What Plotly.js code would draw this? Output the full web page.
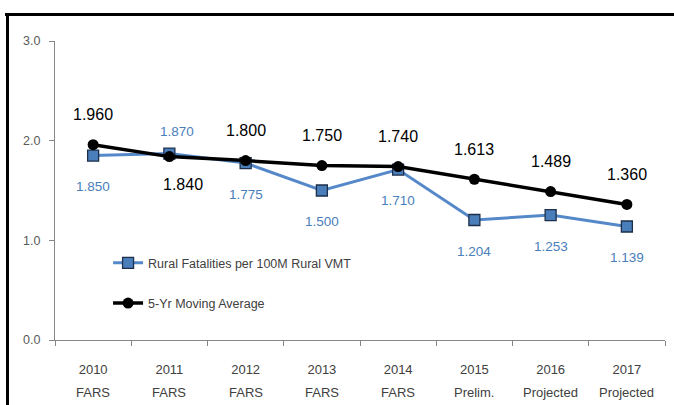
<!DOCTYPE html>
<html>
<head>
<meta charset="utf-8">
<script src="https://cdn.plot.ly/plotly-3.0.1.min.js"></script>
<style>
  html, body { margin: 0; padding: 0; background: #fff; }
  #wrap { position: relative; width: 674px; height: 405px; overflow: hidden; }
  #chart { position: absolute; left: 0; top: 0; width: 674px; height: 405px; }
  .frame { position: absolute; background: #000; z-index: 5; }
</style>
</head>
<body>
<div id="wrap">
  <div id="chart"></div>
  <div class="frame" style="left:5px; top:13px; width:669px; height:3px;"></div>
  <div class="frame" style="left:6px; top:13px; width:3px; height:392px;"></div>
</div>
<script>
// ---- data ----
const years = ["2010", "2011", "2012", "2013", "2014", "2015", "2016", "2017"];
const sources = ["FARS", "FARS", "FARS", "FARS", "FARS", "Prelim.", "Projected", "Projected"];
const ruralRate = [1.850, 1.870, 1.775, 1.500, 1.710, 1.204, 1.253, 1.139];
const movingAvg = [1.960, 1.840, 1.800, 1.750, 1.740, 1.613, 1.489, 1.360];
const seriesNames = ["Rural Fatalities per 100M Rural VMT", "5-Yr Moving Average"];

const FONT = "'Liberation Sans', Arial, sans-serif";
const BLUE = "#4a7ebb";

const traces = [
  {
    x: years, y: ruralRate, name: seriesNames[0], type: "scatter", mode: "lines+markers",
    line: { color: "#5588c8", width: 3 },
    marker: { symbol: "square", size: 11, color: "#4a7ebb", line: { color: "#1d2f4a", width: 1.3 } },
    legendgroup: "a", hoverinfo: "skip"
  },
  {
    x: years, y: movingAvg, name: seriesNames[1], type: "scatter", mode: "lines+markers",
    line: { color: "#000000", width: 3.5 },
    marker: { symbol: "circle", size: 11, color: "#000000" },
    legendgroup: "b", hoverinfo: "skip"
  }
];

const annotations = [];
years.forEach((yr, i) => {
  const blueAbove = ruralRate[i] > movingAvg[i];
  annotations.push({
    x: i, y: ruralRate[i], xref: "x", yref: "y",
    text: ruralRate[i].toFixed(3), showarrow: false,
    xshift: blueAbove ? 8 : 0, yshift: blueAbove ? 22 : -31,
    font: { family: FONT, size: 13.5, color: BLUE }
  });
  annotations.push({
    x: i, y: movingAvg[i], xref: "x", yref: "y",
    text: movingAvg[i].toFixed(3), showarrow: false,
    xshift: blueAbove ? 14 : 0, yshift: blueAbove ? -28 : 30,
    font: { family: FONT, size: 16, color: "#000000" }
  });
  annotations.push({
    x: i, y: 0, xref: "x", yref: "y",
    text: sources[i], showarrow: false, yanchor: "middle", yshift: -52,
    font: { family: FONT, size: 13, color: "#404040" }
  });
});

const layout = {
  width: 674, height: 405,
  margin: { l: 55, r: 9, t: 41, b: 65 },
  paper_bgcolor: "#ffffff", plot_bgcolor: "#ffffff",
  showlegend: true,
  legend: {
    x: 0.087, y: 0.307, xanchor: "left", yanchor: "top",
    traceorder: "grouped", tracegroupgap: 21,
    bgcolor: "rgba(0,0,0,0)",
    font: { family: FONT, size: 12.5, color: "#404040" }
  },
  xaxis: {
    type: "category", categoryorder: "array", categoryarray: years,
    range: [-0.5, years.length - 0.5], autorange: false,
    showline: true, linecolor: "#868686", linewidth: 1,
    ticks: "outside", tickson: "boundaries", ticklen: 5, tickcolor: "#868686",
    showgrid: false, zeroline: false, fixedrange: true,
    ticklabelstandoff: 17, tickangle: 0,
    tickfont: { family: FONT, size: 13, color: "#404040" }
  },
  yaxis: {
    range: [0, 3], autorange: false, dtick: 1, tick0: 0, tickformat: ".1f",
    showline: true, linecolor: "#868686", linewidth: 1,
    ticks: "outside", ticklen: 5, tickcolor: "#868686",
    showgrid: false, zeroline: false, fixedrange: true,
    ticklabelstandoff: 6,
    tickfont: { family: FONT, size: 12.5, color: "#595959" }
  },
  annotations: annotations
};

Plotly.newPlot("chart", traces, layout, { displayModeBar: false, staticPlot: true });
</script>
</body>
</html>
